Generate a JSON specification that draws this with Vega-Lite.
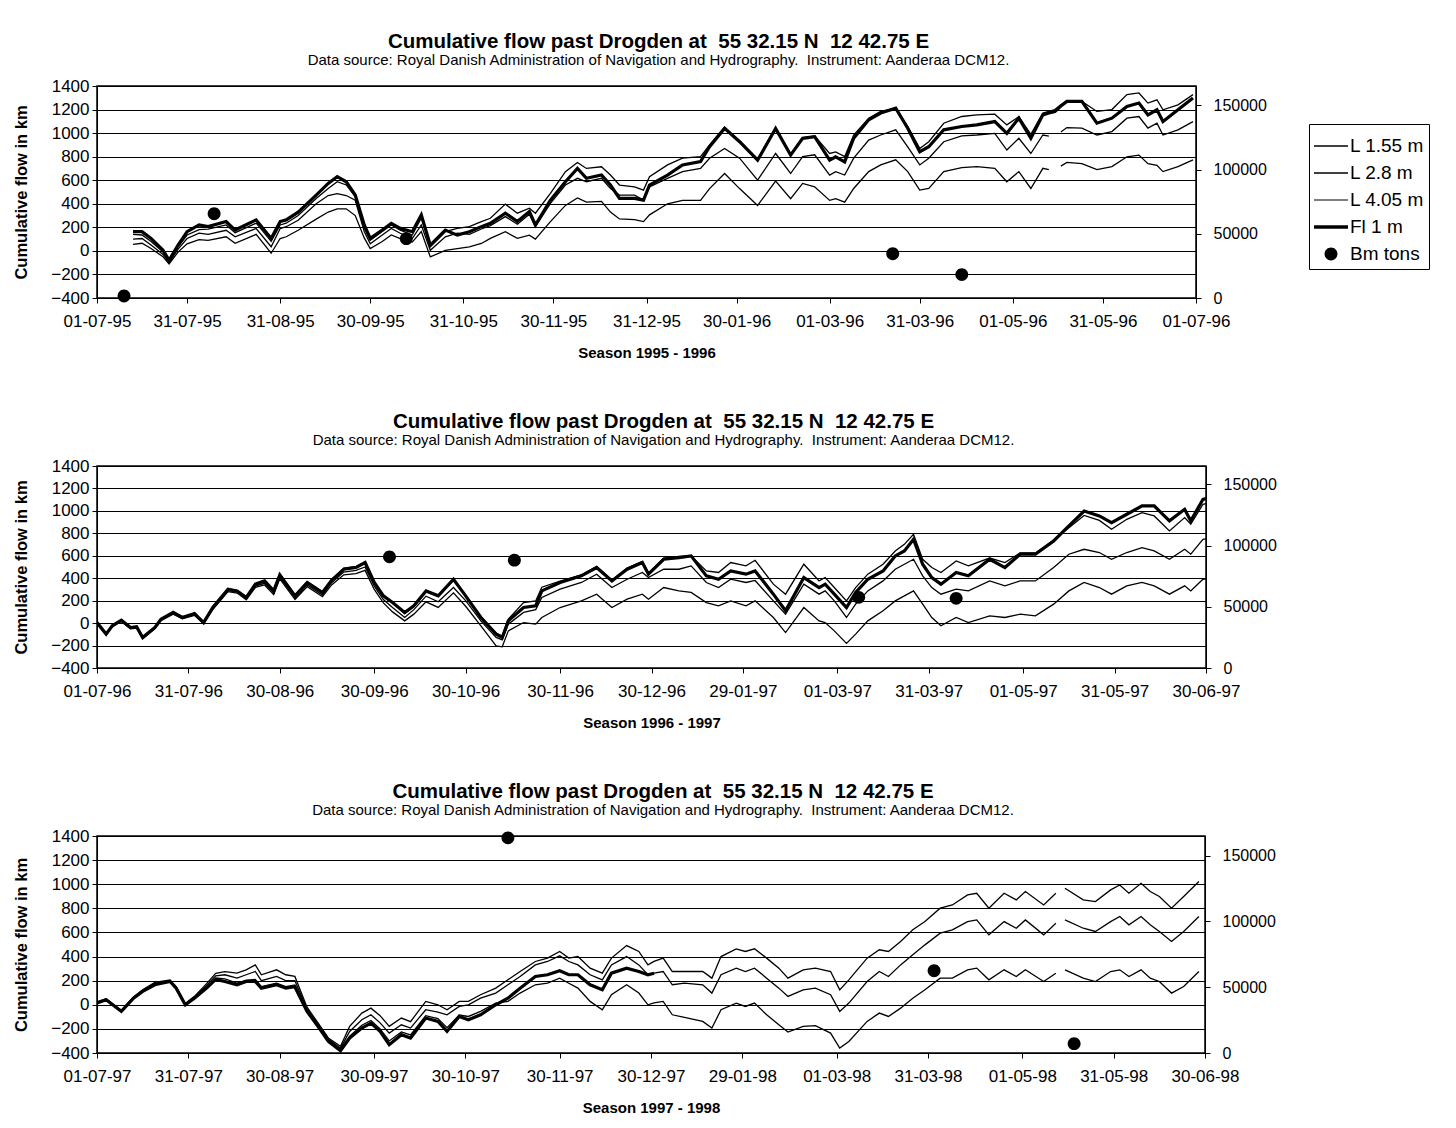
{
"$schema": "https://vega.github.io/schema/vega-lite/v6.json",
"background": "white",
"padding": {"left": 12, "top": 30, "right": 5, "bottom": 2},
"spacing": 49,
"config": {
  "font": "Liberation Sans",
  "view": {"stroke": "black", "strokeWidth": 1.5},
  "axis": {"labelFont": "Liberation Sans", "labelFontSize": 17, "labelColor": "black", "titleFont": "Liberation Sans", "titleFontSize": 15, "titleFontWeight": "bold", "titleColor": "black", "domainColor": "black", "tickColor": "black", "gridColor": "black", "gridWidth": 1.1, "tickSize": 5, "labelOverlap": false},
  "axisY": {"titleFontSize": 16.5},
  "title": {"font": "Liberation Sans", "fontSize": 20.5, "fontWeight": "bold", "color": "black", "subtitleFont": "Liberation Sans", "subtitleFontSize": 15, "subtitleColor": "black", "anchor": "middle", "frame": "group", "offset": 9, "subtitlePadding": 1, "dx": 12},
  "legend": {"labelFont": "Liberation Sans", "labelFontSize": 19, "labelColor": "black", "strokeColor": "black", "padding": 5, "symbolSize": 1156, "symbolFillColor": "black", "symbolStrokeWidth": 0, "labelOffset": 2, "rowPadding": 0, "orient": "none", "title": null, "labelLimit": 300}
},
"datasets": {
"p1": [
{"d":"1995-07-13","a":140,"b":100,"c":55,"f":163},
{"d":"1995-07-16","a":135,"b":105,"c":65,"f":163},
{"d":"1995-07-19","a":80,"b":50,"c":20,"f":106},
{"d":"1995-07-23","a":-10,"b":-30,"c":-50,"f":6},
{"d":"1995-07-25","a":-90,"b":-100,"c":-110,"f":-80},
{"d":"1995-07-28","a":35,"b":15,"c":-10,"f":50},
{"d":"1995-07-31","a":135,"b":105,"c":60,"f":163},
{"d":"1995-08-04","a":180,"b":150,"c":95,"f":220},
{"d":"1995-08-07","a":185,"b":140,"c":90,"f":206},
{"d":"1995-08-13","a":220,"b":175,"c":120,"f":249},
{"d":"1995-08-16","a":155,"b":120,"c":65,"f":177},
{"d":"1995-08-23","a":235,"b":190,"c":140,"f":263},
{"d":"1995-08-28","a":80,"b":35,"c":-20,"f":106},
{"d":"1995-08-31","a":220,"b":190,"c":105,"f":249},
{"d":"1995-09-02","a":235,"b":205,"c":120,"f":263},
{"d":"1995-09-06","a":300,"b":260,"c":175,"f":329},
{"d":"1995-09-12","a":445,"b":400,"c":270,"f":474},
{"d":"1995-09-16","a":530,"b":470,"c":330,"f":573},
{"d":"1995-09-19","a":587,"b":486,"c":357,"f":630},
{"d":"1995-09-22","a":560,"b":470,"c":357,"f":587},
{"d":"1995-09-25","a":460,"b":430,"c":300,"f":474},
{"d":"1995-09-28","a":195,"b":165,"c":110,"f":220},
{"d":"1995-09-30","a":90,"b":60,"c":20,"f":106},
{"d":"1995-10-04","a":165,"b":135,"c":80,"f":177},
{"d":"1995-10-07","a":220,"b":190,"c":135,"f":234},
{"d":"1995-10-10","a":177,"b":150,"c":105,"f":191},
{"d":"1995-10-14","a":135,"b":105,"c":75,"f":163},
{"d":"1995-10-17","a":280,"b":220,"c":165,"f":306},
{"d":"1995-10-20","a":34,"b":5,"c":-51,"f":48},
{"d":"1995-10-25","a":163,"b":120,"c":5,"f":177},
{"d":"1995-10-29","a":191,"b":150,"c":20,"f":134},
{"d":"1995-11-02","a":206,"b":140,"c":34,"f":163},
{"d":"1995-11-06","a":249,"b":186,"c":63,"f":206},
{"d":"1995-11-09","a":277,"b":215,"c":106,"f":234},
{"d":"1995-11-14","a":397,"b":291,"c":163,"f":320},
{"d":"1995-11-18","a":320,"b":226,"c":106,"f":249},
{"d":"1995-11-22","a":363,"b":311,"c":134,"f":334},
{"d":"1995-11-24","a":320,"b":206,"c":100,"f":220},
{"d":"1995-11-29","a":489,"b":403,"c":249,"f":431},
{"d":"1995-12-04","a":673,"b":559,"c":386,"f":587},
{"d":"1995-12-08","a":751,"b":616,"c":449,"f":700},
{"d":"1995-12-11","a":700,"b":587,"c":414,"f":616},
{"d":"1995-12-16","a":714,"b":616,"c":420,"f":644},
{"d":"1995-12-19","a":644,"b":530,"c":329,"f":559},
{"d":"1995-12-22","a":559,"b":474,"c":271,"f":446},
{"d":"1995-12-27","a":544,"b":474,"c":266,"f":446},
{"d":"1995-12-30","a":516,"b":431,"c":249,"f":431},
{"d":"1996-01-01","a":630,"b":544,"c":306,"f":559},
{"d":"1996-01-07","a":730,"b":616,"c":400,"f":644},
{"d":"1996-01-12","a":787,"b":673,"c":429,"f":730},
{"d":"1996-01-18","a":801,"b":700,"c":429,"f":759},
{"d":"1996-01-21","a":899,"b":787,"c":529,"f":884},
{"d":"1996-01-26","a":1050,"b":870,"c":657,"f":1040},
{"d":"1996-01-31","a":935,"b":787,"c":529,"f":927},
{"d":"1996-02-06","a":780,"b":601,"c":386,"f":770},
{"d":"1996-02-12","a":1045,"b":827,"c":593,"f":1040},
{"d":"1996-02-17","a":820,"b":657,"c":443,"f":813},
{"d":"1996-02-21","a":960,"b":801,"c":573,"f":956},
{"d":"1996-02-25","a":975,"b":816,"c":544,"f":970},
{"d":"1996-03-01","a":827,"b":644,"c":429,"f":770},
{"d":"1996-03-03","a":841,"b":673,"c":443,"f":799},
{"d":"1996-03-06","a":800,"b":644,"c":414,"f":756},
{"d":"1996-03-09","a":984,"b":787,"c":530,"f":956},
{"d":"1996-03-14","a":1127,"b":941,"c":673,"f":1113},
{"d":"1996-03-18","a":1184,"b":984,"c":730,"f":1170},
{"d":"1996-03-23","a":1212,"b":1028,"c":773,"f":1212},
{"d":"1996-03-27","a":1056,"b":884,"c":673,"f":1042},
{"d":"1996-03-31","a":870,"b":730,"c":516,"f":842},
{"d":"1996-04-03","a":927,"b":787,"c":530,"f":884},
{"d":"1996-04-08","a":1084,"b":927,"c":673,"f":1028},
{"d":"1996-04-14","a":1141,"b":976,"c":707,"f":1056},
{"d":"1996-04-19","a":1155,"b":984,"c":716,"f":1070},
{"d":"1996-04-25","a":1161,"b":998,"c":701,"f":1098},
{"d":"1996-04-29","a":1070,"b":856,"c":587,"f":998},
{"d":"1996-05-03","a":1140,"b":956,"c":673,"f":1127},
{"d":"1996-05-07","a":990,"b":827,"c":530,"f":956},
{"d":"1996-05-11","a":1170,"b":984,"c":701,"f":1155},
{"d":"1996-05-13","a":1185,"b":975,"c":690,"f":1170},
{"d":"1996-05-15","a":1200,"b":null,"c":null,"f":1184},
{"d":"1996-05-17","a":1240,"b":1010,"c":720,"f":1230},
{"d":"1996-05-19","a":1275,"b":1047,"c":751,"f":1269},
{"d":"1996-05-24","a":1269,"b":1042,"c":741,"f":1269},
{"d":"1996-05-29","a":1184,"b":984,"c":690,"f":1084},
{"d":"1996-06-03","a":1200,"b":1013,"c":716,"f":1127},
{"d":"1996-06-08","a":1327,"b":1127,"c":799,"f":1227},
{"d":"1996-06-12","a":1341,"b":1141,"c":813,"f":1255},
{"d":"1996-06-15","a":1255,"b":1042,"c":741,"f":1155},
{"d":"1996-06-18","a":1283,"b":1084,"c":727,"f":1198},
{"d":"1996-06-20","a":1198,"b":984,"c":673,"f":1098},
{"d":"1996-06-25","a":1240,"b":1028,"c":716,"f":1198},
{"d":"1996-06-30","a":1327,"b":1098,"c":773,"f":1298}
],
"p2": [
{"d":"1996-07-01","a":5,"b":0,"c":-5,"f":5},
{"d":"1996-07-04","a":-95,"b":-100,"c":-105,"f":-98},
{"d":"1996-07-06","a":-20,"b":-28,"c":-32,"f":-24},
{"d":"1996-07-09","a":28,"b":20,"c":15,"f":26},
{"d":"1996-07-12","a":-35,"b":-45,"c":-50,"f":-39},
{"d":"1996-07-14","a":-30,"b":-40,"c":-45,"f":-33},
{"d":"1996-07-16","a":-120,"b":-130,"c":-140,"f":-128},
{"d":"1996-07-20","a":-35,"b":-45,"c":-50,"f":-39},
{"d":"1996-07-22","a":38,"b":28,"c":22,"f":35},
{"d":"1996-07-26","a":98,"b":88,"c":80,"f":95},
{"d":"1996-07-29","a":55,"b":45,"c":38,"f":50},
{"d":"1996-08-02","a":90,"b":78,"c":70,"f":86},
{"d":"1996-08-05","a":10,"b":0,"c":-8,"f":5},
{"d":"1996-08-08","a":145,"b":130,"c":120,"f":139},
{"d":"1996-08-13","a":305,"b":290,"c":280,"f":302},
{"d":"1996-08-16","a":290,"b":278,"c":268,"f":287},
{"d":"1996-08-19","a":235,"b":220,"c":208,"f":228},
{"d":"1996-08-22","a":350,"b":330,"c":318,"f":347},
{"d":"1996-08-25","a":380,"b":355,"c":340,"f":376},
{"d":"1996-08-28","a":295,"b":270,"c":255,"f":287},
{"d":"1996-08-30","a":435,"b":410,"c":395,"f":430},
{"d":"1996-09-04","a":250,"b":225,"c":210,"f":243},
{"d":"1996-09-08","a":370,"b":340,"c":325,"f":362},
{"d":"1996-09-13","a":280,"b":250,"c":235,"f":273},
{"d":"1996-09-16","a":390,"b":360,"c":340,"f":382},
{"d":"1996-09-20","a":490,"b":455,"c":430,"f":480},
{"d":"1996-09-24","a":505,"b":470,"c":440,"f":495},
{"d":"1996-09-27","a":545,"b":500,"c":470,"f":540},
{"d":"1996-09-30","a":360,"b":330,"c":300,"f":362},
{"d":"1996-10-03","a":240,"b":210,"c":180,"f":243},
{"d":"1996-10-06","a":180,"b":140,"c":100,"f":183},
{"d":"1996-10-10","a":85,"b":50,"c":20,"f":95},
{"d":"1996-10-13","a":150,"b":120,"c":80,"f":154},
{"d":"1996-10-17","a":280,"b":240,"c":190,"f":287},
{"d":"1996-10-21","a":240,"b":190,"c":140,"f":243},
{"d":"1996-10-26","a":380,"b":317,"c":270,"f":391},
{"d":"1996-10-30","a":245,"b":200,"c":150,"f":243},
{"d":"1996-11-04","a":60,"b":20,"c":-24,"f":50},
{"d":"1996-11-09","a":-90,"b":-128,"c":-202,"f":-98},
{"d":"1996-11-11","a":-115,"b":-150,"c":-211,"f":-128},
{"d":"1996-11-13","a":35,"b":-9,"c":-69,"f":20},
{"d":"1996-11-18","a":183,"b":95,"c":5,"f":139},
{"d":"1996-11-22","a":198,"b":120,"c":-9,"f":154},
{"d":"1996-11-24","a":320,"b":228,"c":50,"f":287},
{"d":"1996-11-30","a":375,"b":302,"c":139,"f":362},
{"d":"1996-12-07","a":430,"b":362,"c":198,"f":421},
{"d":"1996-12-12","a":505,"b":436,"c":258,"f":495},
{"d":"1996-12-17","a":385,"b":317,"c":139,"f":376},
{"d":"1996-12-22","a":490,"b":391,"c":213,"f":480},
{"d":"1996-12-27","a":550,"b":451,"c":258,"f":540},
{"d":"1996-12-29","a":445,"b":406,"c":213,"f":436},
{"d":"1997-01-03","a":580,"b":480,"c":317,"f":569},
{"d":"1997-01-08","a":595,"b":480,"c":287,"f":584},
{"d":"1997-01-12","a":599,"b":510,"c":273,"f":599},
{"d":"1997-01-17","a":465,"b":362,"c":183,"f":421},
{"d":"1997-01-21","a":451,"b":317,"c":154,"f":391},
{"d":"1997-01-25","a":540,"b":391,"c":198,"f":465},
{"d":"1997-01-30","a":510,"b":362,"c":154,"f":436},
{"d":"1997-02-02","a":560,"b":380,"c":198,"f":465},
{"d":"1997-02-08","a":347,"b":198,"c":50,"f":258},
{"d":"1997-02-12","a":258,"b":80,"c":-84,"f":110},
{"d":"1997-02-18","a":525,"b":347,"c":139,"f":406},
{"d":"1997-02-23","a":376,"b":258,"c":20,"f":317},
{"d":"1997-02-25","a":406,"b":287,"c":5,"f":347},
{"d":"1997-02-28","a":317,"b":198,"c":-69,"f":258},
{"d":"1997-03-04","a":198,"b":50,"c":-181,"f":139},
{"d":"1997-03-07","a":317,"b":169,"c":-98,"f":273},
{"d":"1997-03-11","a":436,"b":287,"c":20,"f":391},
{"d":"1997-03-16","a":525,"b":376,"c":110,"f":465},
{"d":"1997-03-20","a":643,"b":480,"c":198,"f":599},
{"d":"1997-03-23","a":702,"b":525,"c":243,"f":643},
{"d":"1997-03-26","a":792,"b":569,"c":287,"f":747},
{"d":"1997-03-29","a":569,"b":421,"c":169,"f":525},
{"d":"1997-04-01","a":495,"b":317,"c":50,"f":406},
{"d":"1997-04-04","a":451,"b":258,"c":-24,"f":347},
{"d":"1997-04-09","a":554,"b":302,"c":50,"f":451},
{"d":"1997-04-13","a":510,"b":287,"c":5,"f":421},
{"d":"1997-04-20","a":580,"b":376,"c":65,"f":569},
{"d":"1997-04-25","a":540,"b":332,"c":50,"f":495},
{"d":"1997-04-30","a":625,"b":376,"c":80,"f":614},
{"d":"1997-05-05","a":625,"b":376,"c":65,"f":614},
{"d":"1997-05-11","a":740,"b":495,"c":169,"f":732},
{"d":"1997-05-16","a":850,"b":614,"c":287,"f":866},
{"d":"1997-05-21","a":960,"b":658,"c":362,"f":999},
{"d":"1997-05-26","a":915,"b":629,"c":317,"f":955},
{"d":"1997-05-30","a":836,"b":569,"c":258,"f":896},
{"d":"1997-06-04","a":925,"b":629,"c":332,"f":970},
{"d":"1997-06-09","a":985,"b":673,"c":362,"f":1044},
{"d":"1997-06-13","a":955,"b":643,"c":332,"f":1044},
{"d":"1997-06-18","a":821,"b":569,"c":258,"f":911},
{"d":"1997-06-23","a":940,"b":658,"c":332,"f":1014},
{"d":"1997-06-25","a":881,"b":614,"c":287,"f":911},
{"d":"1997-06-29","a":1059,"b":747,"c":391,"f":1103},
{"d":"1997-06-30","a":1065,"b":750,"c":395,"f":1110}
],
"p3": [
{"d":"1997-07-01","a":25,"b":20,"c":15,"f":14},
{"d":"1997-07-04","a":50,"b":45,"c":42,"f":42},
{"d":"1997-07-09","a":-45,"b":-50,"c":-52,"f":-55},
{"d":"1997-07-13","a":65,"b":60,"c":58,"f":55},
{"d":"1997-07-16","a":125,"b":118,"c":115,"f":111},
{"d":"1997-07-20","a":185,"b":178,"c":172,"f":166},
{"d":"1997-07-25","a":205,"b":200,"c":196,"f":193},
{"d":"1997-07-27","a":150,"b":145,"c":142,"f":138},
{"d":"1997-07-30","a":10,"b":5,"c":3,"f":0},
{"d":"1997-08-02","a":70,"b":62,"c":58,"f":55},
{"d":"1997-08-06","a":175,"b":160,"c":140,"f":138},
{"d":"1997-08-09","a":260,"b":240,"c":222,"f":210},
{"d":"1997-08-12","a":275,"b":249,"c":215,"f":193},
{"d":"1997-08-16","a":262,"b":221,"c":180,"f":166},
{"d":"1997-08-19","a":290,"b":249,"c":205,"f":193},
{"d":"1997-08-22","a":331,"b":276,"c":210,"f":193},
{"d":"1997-08-24","a":249,"b":200,"c":150,"f":138},
{"d":"1997-08-29","a":290,"b":235,"c":180,"f":166},
{"d":"1997-09-01","a":249,"b":200,"c":150,"f":138},
{"d":"1997-09-04","a":235,"b":200,"c":165,"f":150},
{"d":"1997-09-08","a":-20,"b":-35,"c":-45,"f":-55},
{"d":"1997-09-12","a":-165,"b":-175,"c":-185,"f":-193},
{"d":"1997-09-15","a":-275,"b":-285,"c":-295,"f":-303},
{"d":"1997-09-19","a":-345,"b":-360,"c":-370,"f":-381},
{"d":"1997-09-22","a":-179,"b":-221,"c":-260,"f":-276},
{"d":"1997-09-26","a":-69,"b":-124,"c":-170,"f":-193},
{"d":"1997-09-29","a":-28,"b":-83,"c":-130,"f":-152},
{"d":"1997-10-02","a":-90,"b":-150,"c":-200,"f":-221},
{"d":"1997-10-05","a":-179,"b":-235,"c":-300,"f":-331},
{"d":"1997-10-09","a":-110,"b":-166,"c":-225,"f":-248},
{"d":"1997-10-12","a":-140,"b":-193,"c":-250,"f":-276},
{"d":"1997-10-17","a":28,"b":-41,"c":-90,"f":-110},
{"d":"1997-10-21","a":0,"b":-60,"c":-115,"f":-138},
{"d":"1997-10-24","a":-41,"b":-83,"c":-190,"f":-221},
{"d":"1997-10-28","a":28,"b":-14,"c":-85,"f":-97},
{"d":"1997-10-31","a":28,"b":0,"c":-97,"f":-124},
{"d":"1997-11-04","a":83,"b":55,"c":-55,"f":-83},
{"d":"1997-11-09","a":138,"b":97,"c":14,"f":0},
{"d":"1997-11-13","a":207,"b":166,"c":28,"f":55},
{"d":"1997-11-17","a":276,"b":235,"c":97,"f":138},
{"d":"1997-11-22","a":359,"b":331,"c":166,"f":235},
{"d":"1997-11-26","a":387,"b":359,"c":179,"f":249},
{"d":"1997-11-30","a":442,"b":406,"c":221,"f":282},
{"d":"1997-12-03","a":387,"b":359,"c":179,"f":249},
{"d":"1997-12-06","a":400,"b":331,"c":138,"f":249},
{"d":"1997-12-10","a":304,"b":249,"c":28,"f":166},
{"d":"1997-12-14","a":262,"b":207,"c":-41,"f":124},
{"d":"1997-12-17","a":387,"b":331,"c":83,"f":262},
{"d":"1997-12-22","a":491,"b":400,"c":166,"f":304},
{"d":"1997-12-26","a":442,"b":331,"c":97,"f":276},
{"d":"1997-12-29","a":331,"b":249,"c":0,"f":249},
{"d":"1997-12-31","a":360,"b":262,"c":15,"f":262},
{"d":"1998-01-03","a":387,"b":276,"c":28,"f":null},
{"d":"1998-01-06","a":276,"b":166,"c":-83,"f":null},
{"d":"1998-01-10","a":276,"b":180,"c":-104,"f":null},
{"d":"1998-01-16","a":276,"b":166,"c":-138,"f":null},
{"d":"1998-01-19","a":221,"b":97,"c":-193,"f":null},
{"d":"1998-01-22","a":400,"b":249,"c":-41,"f":null},
{"d":"1998-01-27","a":464,"b":304,"c":14,"f":null},
{"d":"1998-01-30","a":442,"b":276,"c":-14,"f":null},
{"d":"1998-02-02","a":464,"b":304,"c":14,"f":null},
{"d":"1998-02-06","a":387,"b":221,"c":-83,"f":null},
{"d":"1998-02-10","a":304,"b":138,"c":-166,"f":null},
{"d":"1998-02-13","a":221,"b":69,"c":-226,"f":null},
{"d":"1998-02-18","a":290,"b":124,"c":-179,"f":null},
{"d":"1998-02-22","a":304,"b":138,"c":-173,"f":null},
{"d":"1998-02-27","a":276,"b":83,"c":-235,"f":null},
{"d":"1998-03-02","a":124,"b":-55,"c":-359,"f":null},
{"d":"1998-03-05","a":207,"b":14,"c":-304,"f":null},
{"d":"1998-03-11","a":387,"b":193,"c":-138,"f":null},
{"d":"1998-03-15","a":456,"b":276,"c":-69,"f":null},
{"d":"1998-03-18","a":442,"b":235,"c":-97,"f":null},
{"d":"1998-03-22","a":525,"b":331,"c":-28,"f":null},
{"d":"1998-03-26","a":622,"b":414,"c":55,"f":null},
{"d":"1998-03-30","a":690,"b":497,"c":124,"f":null},
{"d":"1998-04-04","a":801,"b":594,"c":221,"f":null},
{"d":"1998-04-08","a":828,"b":622,"c":221,"f":null},
{"d":"1998-04-13","a":911,"b":690,"c":290,"f":null},
{"d":"1998-04-16","a":925,"b":704,"c":304,"f":null},
{"d":"1998-04-20","a":801,"b":580,"c":207,"f":null},
{"d":"1998-04-25","a":925,"b":690,"c":290,"f":null},
{"d":"1998-04-29","a":870,"b":635,"c":235,"f":null},
{"d":"1998-05-02","a":939,"b":704,"c":290,"f":null},
{"d":"1998-05-08","a":828,"b":580,"c":193,"f":null},
{"d":"1998-05-12","a":925,"b":677,"c":262,"f":null},
{"d":"1998-05-13","a":null,"b":null,"c":null,"f":null},
{"d":"1998-05-15","a":967,"b":704,"c":290,"f":null},
{"d":"1998-05-21","a":870,"b":635,"c":221,"f":null},
{"d":"1998-05-25","a":856,"b":608,"c":193,"f":null},
{"d":"1998-05-30","a":953,"b":690,"c":276,"f":null},
{"d":"1998-06-02","a":994,"b":732,"c":290,"f":null},
{"d":"1998-06-05","a":925,"b":663,"c":235,"f":null},
{"d":"1998-06-09","a":1008,"b":732,"c":290,"f":null},
{"d":"1998-06-12","a":939,"b":663,"c":221,"f":null},
{"d":"1998-06-15","a":898,"b":608,"c":193,"f":null},
{"d":"1998-06-19","a":801,"b":525,"c":97,"f":null},
{"d":"1998-06-23","a":898,"b":608,"c":152,"f":null},
{"d":"1998-06-28","a":1022,"b":732,"c":276,"f":null}
],
"b1": [
{"d":"1995-07-10","v":1500,"s":"Bm tons"},
{"d":"1995-08-09","v":65600,"s":"Bm tons"},
{"d":"1995-10-12","v":46200,"s":"Bm tons"},
{"d":"1996-03-22","v":34500,"s":"Bm tons"},
{"d":"1996-04-14","v":18200,"s":"Bm tons"}
],
"b2": [
{"d":"1996-10-05","v":90800,"s":"Bm tons"},
{"d":"1996-11-15","v":88100,"s":"Bm tons"},
{"d":"1997-03-08","v":57700,"s":"Bm tons"},
{"d":"1997-04-09","v":56900,"s":"Bm tons"}
],
"b3": [
{"d":"1997-11-13","v":163600,"s":"Bm tons"},
{"d":"1998-04-02","v":62600,"s":"Bm tons"},
{"d":"1998-05-18","v":7100,"s":"Bm tons"}
]
},
"vconcat": [
{
 "width": 1099, "height": 212,
 "title": {"text": "Cumulative flow past Drogden at \u00a055 32.15 N \u00a012 42.75 E", "subtitle": "Data source: Royal Danish Administration of Navigation and Hydrography.\u00a0 Instrument: Aanderaa DCM12."},
 "resolve": {"scale": {"y": "independent"}},
 "layer": [
  {"data": {"name": "p1"},
   "layer": [
    {"transform": [{"fold": ["a", "b", "c"], "as": ["series", "value"]}],
     "mark": {"type": "line", "color": "black", "strokeWidth": 1.3, "invalid": "break-paths-filter-domains", "clip": true},
     "encoding": {
      "x": {"field": "d", "type": "temporal", "scale": {"type": "utc", "domain": [{"year": 1995, "month": 7, "date": 1, "utc": true}, {"year": 1996, "month": 7, "date": 1, "utc": true}]},
            "axis": {"title": "Season 1995 - 1996", "format": "%d-%m-%y", "grid": false, "labelPadding": 10, "titlePadding": 16, "labelFlush": false,
                     "values": [{"year":1995,"month":7,"date":1,"utc":true},{"year":1995,"month":7,"date":31,"utc":true},{"year":1995,"month":8,"date":31,"utc":true},{"year":1995,"month":9,"date":30,"utc":true},{"year":1995,"month":10,"date":31,"utc":true},{"year":1995,"month":11,"date":30,"utc":true},{"year":1995,"month":12,"date":31,"utc":true},{"year":1996,"month":1,"date":30,"utc":true},{"year":1996,"month":3,"date":1,"utc":true},{"year":1996,"month":3,"date":31,"utc":true},{"year":1996,"month":5,"date":1,"utc":true},{"year":1996,"month":5,"date":31,"utc":true},{"year":1996,"month":7,"date":1,"utc":true}]}},
      "y": {"field": "value", "type": "quantitative", "scale": {"domain": [-400, 1400], "nice": false}, "axis": {"title": "Cumulative flow in km", "values": [-400,-200,0,200,400,600,800,1000,1200,1400], "format": "d", "grid": true, "labelPadding": 3, "titlePadding": 21}},
      "detail": {"field": "series", "type": "nominal"}
     }},
    {"mark": {"type": "line", "color": "black", "strokeWidth": 3.2, "invalid": "break-paths-filter-domains", "clip": true},
     "encoding": {
      "x": {"field": "d", "type": "temporal"},
      "y": {"field": "f", "type": "quantitative", "axis": {"title": "Cumulative flow in km", "values": [-400,-200,0,200,400,600,800,1000,1200,1400], "format": "d", "grid": true, "labelPadding": 3, "titlePadding": 21}}
     }}
   ]},
  {"data": {"name": "b1"},
   "mark": {"type": "point", "filled": true, "color": "black", "opacity": 1, "size": 1156},
   "encoding": {
    "x": {"field": "d", "type": "temporal"},
    "y": {"field": "v", "type": "quantitative", "scale": {"domain": [0, 165000], "nice": false}, "axis": {"orient": "right", "title": null, "values": [0, 50000, 100000, 150000], "format": "d", "grid": false, "labelPadding": 12, "labelFontSize": 16}},
    "shape": {"field": "s", "type": "nominal",
      "scale": {"domain": ["L 1.55 m", "L 2.8 m", "L 4.05 m", "Fl 1 m", "Bm tons"], "range": ["M-1,-0.04H1V0.04H-1Z", "M-1,-0.04H1V0.04H-1Z", "M-1,-0.035H1V0.035H-1Z", "M-1,-0.1H1V0.1H-1Z", "M-0.38,0A0.38,0.38,0,1,0,0.38,0A0.38,0.38,0,1,0,-0.38,0Z"]},
      "legend": {"legendX": 1212, "legendY": 38}}
   }}
 ]
},
{
 "width": 1109, "height": 202,
 "title": {"text": "Cumulative flow past Drogden at \u00a055 32.15 N \u00a012 42.75 E", "subtitle": "Data source: Royal Danish Administration of Navigation and Hydrography.\u00a0 Instrument: Aanderaa DCM12."},
 "resolve": {"scale": {"y": "independent"}},
 "layer": [
  {"data": {"name": "p2"},
   "layer": [
    {"transform": [{"fold": ["a", "b", "c"], "as": ["series", "value"]}],
     "mark": {"type": "line", "color": "black", "strokeWidth": 1.3, "invalid": "break-paths-filter-domains", "clip": true},
     "encoding": {
      "x": {"field": "d", "type": "temporal", "scale": {"type": "utc", "domain": [{"year": 1996, "month": 7, "date": 1, "utc": true}, {"year": 1997, "month": 6, "date": 30, "utc": true}]},
            "axis": {"title": "Season 1996 - 1997", "format": "%d-%m-%y", "grid": false, "labelPadding": 10, "titlePadding": 16, "labelFlush": false,
                     "values": [{"year":1996,"month":7,"date":1,"utc":true},{"year":1996,"month":7,"date":31,"utc":true},{"year":1996,"month":8,"date":30,"utc":true},{"year":1996,"month":9,"date":30,"utc":true},{"year":1996,"month":10,"date":30,"utc":true},{"year":1996,"month":11,"date":30,"utc":true},{"year":1996,"month":12,"date":30,"utc":true},{"year":1997,"month":1,"date":29,"utc":true},{"year":1997,"month":3,"date":1,"utc":true},{"year":1997,"month":3,"date":31,"utc":true},{"year":1997,"month":5,"date":1,"utc":true},{"year":1997,"month":5,"date":31,"utc":true},{"year":1997,"month":6,"date":30,"utc":true}]}},
      "y": {"field": "value", "type": "quantitative", "scale": {"domain": [-400, 1400], "nice": false}, "axis": {"title": "Cumulative flow in km", "values": [-400,-200,0,200,400,600,800,1000,1200,1400], "format": "d", "grid": true, "labelPadding": 3, "titlePadding": 21}},
      "detail": {"field": "series", "type": "nominal"}
     }},
    {"mark": {"type": "line", "color": "black", "strokeWidth": 3.2, "invalid": "break-paths-filter-domains", "clip": true},
     "encoding": {
      "x": {"field": "d", "type": "temporal"},
      "y": {"field": "f", "type": "quantitative", "axis": {"title": "Cumulative flow in km", "values": [-400,-200,0,200,400,600,800,1000,1200,1400], "format": "d", "grid": true, "labelPadding": 3, "titlePadding": 21}}
     }}
   ]},
  {"data": {"name": "b2"},
   "mark": {"type": "point", "filled": true, "color": "black", "opacity": 1, "size": 1156},
   "encoding": {
    "x": {"field": "d", "type": "temporal"},
    "y": {"field": "v", "type": "quantitative", "scale": {"domain": [0, 165000], "nice": false}, "axis": {"orient": "right", "title": null, "values": [0, 50000, 100000, 150000], "format": "d", "grid": false, "labelPadding": 12, "labelFontSize": 16}},
    "shape": {"field": "s", "type": "nominal",
      "scale": {"domain": ["L 1.55 m", "L 2.8 m", "L 4.05 m", "Fl 1 m", "Bm tons"], "range": ["M-1,-0.04H1V0.04H-1Z", "M-1,-0.04H1V0.04H-1Z", "M-1,-0.035H1V0.035H-1Z", "M-1,-0.1H1V0.1H-1Z", "M-0.38,0A0.38,0.38,0,1,0,0.38,0A0.38,0.38,0,1,0,-0.38,0Z"]},
      "legend": {"legendX": 1221, "legendY": 33}}
   }}
 ]
},
{
 "width": 1108, "height": 217,
 "title": {"text": "Cumulative flow past Drogden at \u00a055 32.15 N \u00a012 42.75 E", "subtitle": "Data source: Royal Danish Administration of Navigation and Hydrography.\u00a0 Instrument: Aanderaa DCM12."},
 "resolve": {"scale": {"y": "independent"}},
 "layer": [
  {"data": {"name": "p3"},
   "layer": [
    {"transform": [{"fold": ["a", "b", "c"], "as": ["series", "value"]}],
     "mark": {"type": "line", "color": "black", "strokeWidth": 1.3, "invalid": "break-paths-filter-domains", "clip": true},
     "encoding": {
      "x": {"field": "d", "type": "temporal", "scale": {"type": "utc", "domain": [{"year": 1997, "month": 7, "date": 1, "utc": true}, {"year": 1998, "month": 6, "date": 30, "utc": true}]},
            "axis": {"title": "Season 1997 - 1998", "format": "%d-%m-%y", "grid": false, "labelPadding": 10, "titlePadding": 16, "labelFlush": false,
                     "values": [{"year":1997,"month":7,"date":1,"utc":true},{"year":1997,"month":7,"date":31,"utc":true},{"year":1997,"month":8,"date":30,"utc":true},{"year":1997,"month":9,"date":30,"utc":true},{"year":1997,"month":10,"date":30,"utc":true},{"year":1997,"month":11,"date":30,"utc":true},{"year":1997,"month":12,"date":30,"utc":true},{"year":1998,"month":1,"date":29,"utc":true},{"year":1998,"month":3,"date":1,"utc":true},{"year":1998,"month":3,"date":31,"utc":true},{"year":1998,"month":5,"date":1,"utc":true},{"year":1998,"month":5,"date":31,"utc":true},{"year":1998,"month":6,"date":30,"utc":true}]}},
      "y": {"field": "value", "type": "quantitative", "scale": {"domain": [-400, 1400], "nice": false}, "axis": {"title": "Cumulative flow in km", "values": [-400,-200,0,200,400,600,800,1000,1200,1400], "format": "d", "grid": true, "labelPadding": 3, "titlePadding": 21}},
      "detail": {"field": "series", "type": "nominal"}
     }},
    {"mark": {"type": "line", "color": "black", "strokeWidth": 3.2, "invalid": "break-paths-filter-domains", "clip": true},
     "encoding": {
      "x": {"field": "d", "type": "temporal"},
      "y": {"field": "f", "type": "quantitative", "axis": {"title": "Cumulative flow in km", "values": [-400,-200,0,200,400,600,800,1000,1200,1400], "format": "d", "grid": true, "labelPadding": 3, "titlePadding": 21}}
     }}
   ]},
  {"data": {"name": "b3"},
   "mark": {"type": "point", "filled": true, "color": "black", "opacity": 1, "size": 1156},
   "encoding": {
    "x": {"field": "d", "type": "temporal"},
    "y": {"field": "v", "type": "quantitative", "scale": {"domain": [0, 165000], "nice": false}, "axis": {"orient": "right", "title": null, "values": [0, 50000, 100000, 150000], "format": "d", "grid": false, "labelPadding": 12, "labelFontSize": 16}},
    "shape": {"field": "s", "type": "nominal",
      "scale": {"domain": ["L 1.55 m", "L 2.8 m", "L 4.05 m", "Fl 1 m", "Bm tons"], "range": ["M-1,-0.04H1V0.04H-1Z", "M-1,-0.04H1V0.04H-1Z", "M-1,-0.035H1V0.035H-1Z", "M-1,-0.1H1V0.1H-1Z", "M-0.38,0A0.38,0.38,0,1,0,0.38,0A0.38,0.38,0,1,0,-0.38,0Z"]},
      "legend": {"legendX": 1220, "legendY": 41}}
   }}
 ]
}
]
}
